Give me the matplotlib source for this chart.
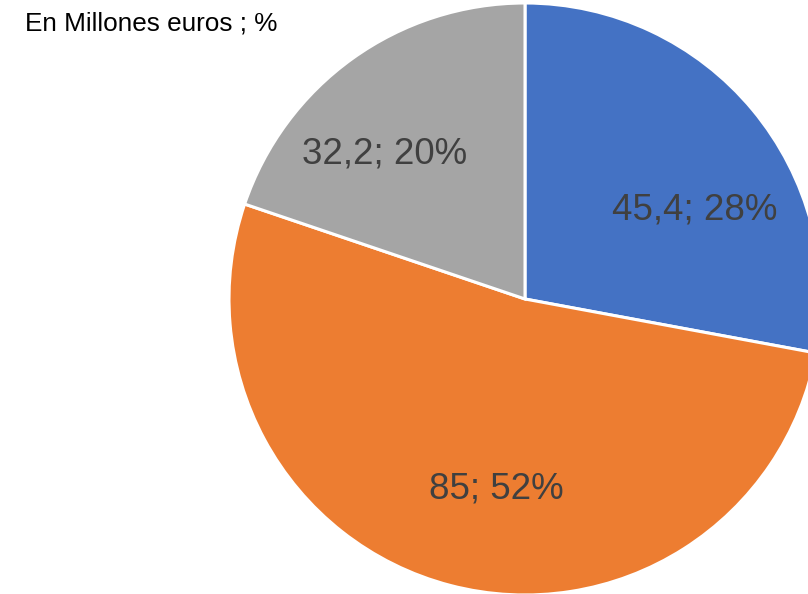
"""Pie chart of amounts in millions of euros with their shares."""

import matplotlib.pyplot as plt

plt.rcParams["font.family"] = ["Liberation Sans", "DejaVu Sans"]

# amounts in millions of euros, drawn clockwise from 12 o'clock
values = [45.4, 85.0, 32.2]
value_labels = ["45,4", "85", "32,2"]
colors = ["#4472C4", "#ED7D31", "#A5A5A5"]
title = "En Millones euros ; %"

# label anchor points (baseline centre) in pie radius units
label_pos = [(0.574, 0.267), (-0.098, -0.674), (-0.473, 0.458)]


def main() -> None:
    fig = plt.figure(figsize=(8.08, 5.94), dpi=100)
    ax = fig.add_axes([229 / 808, -1 / 594, 592 / 808, 592 / 594])

    wedges, _ = ax.pie(
        values,
        colors=colors,
        startangle=90,
        counterclock=False,
        radius=1.0,
        wedgeprops={"edgecolor": "white", "linewidth": 2.2},
    )
    for w in wedges:
        w.set_clip_on(False)

    total = sum(values)
    for v, lab, (x, y) in zip(values, value_labels, label_pos):
        pct = round(100 * v / total)
        ax.text(x, y, f"{lab}; {pct}%", ha="center", va="baseline",
                fontsize=26.5, color="#404040")

    ax.set_xlim(-1, 1)
    ax.set_ylim(-1, 1)
    ax.set_aspect("equal")
    ax.axis("off")

    fig.text(25 / 808, 1 - 31 / 594, title, ha="left", va="baseline",
             fontsize=18.8, color="black")

    fig.savefig("out.png", dpi=100)
    plt.close(fig)


if __name__ == "__main__":
    main()
